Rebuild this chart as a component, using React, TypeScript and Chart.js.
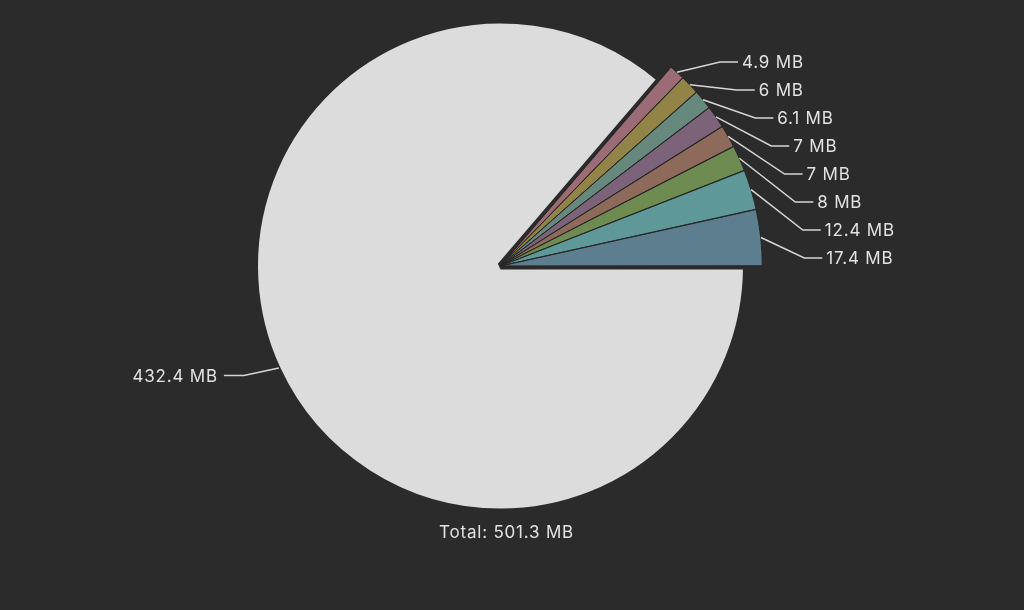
import React, { useEffect, useRef } from "react";
import { Chart, registerables } from "chart.js";

Chart.register(...registerables);

const categories = ["Other", "Item 1", "Item 2", "Item 3", "Item 4", "Item 5", "Item 6", "Item 7", "Item 8"];
const sizesMB = [432.4, 4.9, 6, 6.1, 7, 7, 8, 12.4, 17.4];
const sliceColors = [
  "#dcdcdc",
  "#9b6c76",
  "#928346",
  "#66887d",
  "#7c6379",
  "#8d6a5a",
  "#6e8b51",
  "#5f9898",
  "#5d7e8f",
];
const totalMB = 501.3;

const BG = "#2b2b2b";
const TEXT = "#e2e2e2";
const LINE = "#d6d6d6";
const FONT = "17px Inter, 'Noto Sans', sans-serif";

const labelPlugin = {
  id: "outLabels",
  afterDatasetsUpdate(chart: any) {
    const meta = chart.getDatasetMeta(0);
    meta.data.forEach((arc: any, i: number) => {
      if (i > 0) arc.outerRadius = arc.outerRadius + 14;
    });
  },
  afterDraw(chart: any) {
    const ctx = chart.ctx;
    const meta = chart.getDatasetMeta(0);
    const arcs = meta.data;
    const big = arcs[0];
    const cx = big.x;
    const cy = big.y;
    ctx.save();
    ctx.font = FONT;
    try {
      (ctx as any).letterSpacing = "0.8px";
    } catch (e) {}
    ctx.fillStyle = TEXT;
    ctx.strokeStyle = LINE;
    ctx.lineWidth = 1.5;
    ctx.textBaseline = "middle";

    const bigR = big.outerRadius - 4;

    // big slice label (left side)
    {
      const mid = (big.startAngle + big.endAngle) / 2;
      const r = bigR;
      const ax = cx + Math.cos(mid) * (r + 2);
      const ay = cy + Math.sin(mid) * (r + 2);
      const ly = cy + Math.sin(mid) * (r + 20);
      const re = r + 37;
      const dy = ly - cy;
      const side = Math.cos(mid) < 0 ? -1 : 1;
      const ex = cx + side * Math.sqrt(Math.max(re * re - dy * dy, 0));
      ctx.beginPath();
      ctx.moveTo(ax, ay);
      ctx.lineTo(ex, ly);
      ctx.lineTo(ex + side * 20, ly);
      ctx.stroke();
      ctx.textAlign = side < 0 ? "right" : "left";
      ctx.fillText(`${sizesMB[0]} MB`, ex + side * 26, ly + 1);
    }

    // small slices: stacked from the bottom upward
    const n = arcs.length;
    for (let k = 0; k < n - 1; k++) {
      const i = n - 1 - k;
      const arc = arcs[i];
      const mid = (arc.startAngle + arc.endAngle) / 2;
      const r = arc.outerRadius;
      const ax = cx + Math.cos(mid) * (r + 2);
      const ay = cy + Math.sin(mid) * (r + 2);
      const ly = cy - 8 - k * 28;
      const re = r + 40;
      const dy = ly - cy;
      const exCircle = cx + Math.sqrt(Math.max(re * re - dy * dy, 0));
      const exAnchor = ax + 38 + 0.45 * Math.abs(ly - ay);
      const ex = 0.5 * exCircle + 0.5 * exAnchor;
      ctx.beginPath();
      ctx.moveTo(ax, ay);
      ctx.lineTo(ex, ly);
      ctx.lineTo(ex + 18, ly);
      ctx.stroke();
      ctx.textAlign = "left";
      ctx.fillText(`${sizesMB[i]} MB`, ex + 22, ly + 1);
    }

    // total
    ctx.textAlign = "center";
    ctx.fillText(`Total: ${totalMB} MB`, cx + 6, cy + bigR + 25);
    ctx.restore();
  },
};

export default function App() {
  const ref = useRef<HTMLCanvasElement | null>(null);
  useEffect(() => {
    if (!ref.current) return;
    const chart = new Chart(ref.current, {
      type: "pie",
      data: {
        labels: categories,
        datasets: [
          {
            data: sizesMB,
            backgroundColor: sliceColors,
            borderColor: sizesMB.map((_, i) => (i === 0 ? BG : "#262626")),
            borderWidth: sizesMB.map((_, i) => (i === 0 ? 7 : 1)),
            offset: sizesMB.map((_, i) => (i === 0 ? 0 : 4)),
            radius: 246,
          } as any,
        ],
      },
      options: {
        responsive: false,
        animation: false,
        rotation: 90,
        layout: { padding: { left: 0, right: 23, top: 0, bottom: 78 } },
        plugins: {
          legend: { display: false },
          tooltip: { enabled: false },
        },
        events: [],
      },
      plugins: [labelPlugin],
    });
    return () => chart.destroy();
  }, []);
  return (
    <div
      style={{
        position: "fixed",
        left: 0,
        top: 0,
        width: 1024,
        height: 610,
        background: BG,
      }}
    >
      <canvas ref={ref} width={1024} height={610} style={{ display: "block" }} />
    </div>
  );
}
